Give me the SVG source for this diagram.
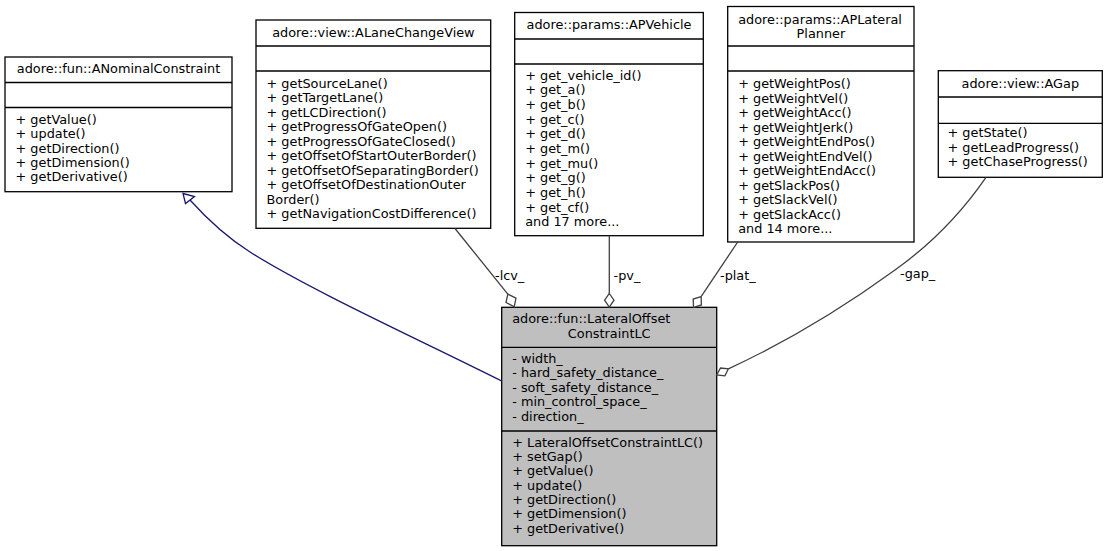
<svg xmlns="http://www.w3.org/2000/svg" width="1109" height="551" viewBox="0 0 1109 551">
<style>
text{font-family:"DejaVu Sans","Liberation Sans",sans-serif;font-size:12.85px;fill:#000}
.c{text-anchor:middle}
.box{fill:#fff;stroke:#000;stroke-width:1.3}
.main{fill:#bfbfbf}
.sep{stroke:#000;stroke-width:1.3}
.edge{fill:none;stroke:#404040;stroke-width:1.3}
.inh{fill:none;stroke:#191970;stroke-width:1.3}
.dia{fill:#fff;stroke:#404040;stroke-width:1.3}
.tri{fill:#fff;stroke:#191970;stroke-width:1.3}
.lbl{fill:#000}
</style>
<rect x="0" y="0" width="1109" height="551" fill="#fff"/>

<g id="node_ANominalConstraint">
<rect class="box" x="5" y="57" width="227" height="134.7"/>
<line class="sep" x1="5" y1="82.5" x2="232" y2="82.5"/>
<line class="sep" x1="5" y1="107.5" x2="232" y2="107.5"/>
<text class="c" x="118.5" y="73">adore::fun::ANominalConstraint</text>
<text x="15.5"><tspan x="15.5" y="124">+ getValue()</tspan><tspan x="15.5" y="138.3">+ update()</tspan><tspan x="15.5" y="152.6">+ getDirection()</tspan><tspan x="15.5" y="166.9">+ getDimension()</tspan><tspan x="15.5" y="181.2">+ getDerivative()</tspan></text>
</g>

<g id="node_ALaneChangeView">
<rect class="box" x="256" y="20" width="234.7" height="208.3"/>
<line class="sep" x1="256" y1="46" x2="490.7" y2="46"/>
<line class="sep" x1="256" y1="71" x2="490.7" y2="71"/>
<text class="c" x="373.4" y="36.7">adore::view::ALaneChangeView</text>
<text x="266.5"><tspan x="266.5" y="87.5">+ getSourceLane()</tspan><tspan x="266.5" y="102">+ getTargetLane()</tspan><tspan x="266.5" y="116.5">+ getLCDirection()</tspan><tspan x="266.5" y="131">+ getProgressOfGateOpen()</tspan><tspan x="266.5" y="145.5">+ getProgressOfGateClosed()</tspan><tspan x="266.5" y="160">+ getOffsetOfStartOuterBorder()</tspan><tspan x="266.5" y="174.5">+ getOffsetOfSeparatingBorder()</tspan><tspan x="266.5" y="189">+ getOffsetOfDestinationOuter</tspan><tspan x="266.5" y="203.5">Border()</tspan><tspan x="266.5" y="218">+ getNavigationCostDifference()</tspan></text>
</g>

<g id="node_APVehicle">
<rect class="box" x="514.7" y="12.5" width="188.6" height="223.2"/>
<line class="sep" x1="514.7" y1="39" x2="703.3" y2="39"/>
<line class="sep" x1="514.7" y1="64" x2="703.3" y2="64"/>
<text class="c" x="609" y="29">adore::params::APVehicle</text>
<text x="525.2"><tspan x="525.2" y="79.8">+ get_vehicle_id()</tspan><tspan x="525.2" y="94.4">+ get_a()</tspan><tspan x="525.2" y="109.1">+ get_b()</tspan><tspan x="525.2" y="123.7">+ get_c()</tspan><tspan x="525.2" y="138.4">+ get_d()</tspan><tspan x="525.2" y="153">+ get_m()</tspan><tspan x="525.2" y="167.7">+ get_mu()</tspan><tspan x="525.2" y="182.3">+ get_g()</tspan><tspan x="525.2" y="197">+ get_h()</tspan><tspan x="525.2" y="211.6">+ get_cf()</tspan><tspan x="525.2" y="226.3">and 17 more...</tspan></text>
</g>

<g id="node_APLateralPlanner">
<rect class="box" x="727.7" y="6.5" width="186.3" height="235.5"/>
<line class="sep" x1="727.7" y1="46" x2="914" y2="46"/>
<line class="sep" x1="727.7" y1="71" x2="914" y2="71"/>
<text x="738.2" y="23.5">adore::params::APLateral</text>
<text class="c" x="820.9" y="38">Planner</text>
<text x="738.2"><tspan x="738.2" y="88">+ getWeightPos()</tspan><tspan x="738.2" y="102.5">+ getWeightVel()</tspan><tspan x="738.2" y="117">+ getWeightAcc()</tspan><tspan x="738.2" y="131.5">+ getWeightJerk()</tspan><tspan x="738.2" y="146">+ getWeightEndPos()</tspan><tspan x="738.2" y="160.5">+ getWeightEndVel()</tspan><tspan x="738.2" y="175">+ getWeightEndAcc()</tspan><tspan x="738.2" y="189.5">+ getSlackPos()</tspan><tspan x="738.2" y="204">+ getSlackVel()</tspan><tspan x="738.2" y="218.5">+ getSlackAcc()</tspan><tspan x="738.2" y="233">and 14 more...</tspan></text>
</g>

<g id="node_AGap">
<rect class="box" x="938.3" y="70.7" width="164" height="106.6"/>
<line class="sep" x1="938.3" y1="97" x2="1102.3" y2="97"/>
<line class="sep" x1="938.3" y1="123.3" x2="1102.3" y2="123.3"/>
<text class="c" x="1020.3" y="88">adore::view::AGap</text>
<text x="947.5"><tspan x="947.5" y="137">+ getState()</tspan><tspan x="947.5" y="151.5">+ getLeadProgress()</tspan><tspan x="947.5" y="166">+ getChaseProgress()</tspan></text>
</g>

<g id="node_LateralOffsetConstraintLC">
<rect class="box main" x="501.7" y="307.3" width="215" height="238.4"/>
<line class="sep" x1="501.7" y1="347.3" x2="716.7" y2="347.3"/>
<line class="sep" x1="501.7" y1="431" x2="716.7" y2="431"/>
<text x="512.2" y="323.3">adore::fun::LateralOffset</text>
<text class="c" x="609.2" y="337.8">ConstraintLC</text>
<text x="512.2"><tspan x="512.2" y="362.7">- width_</tspan><tspan x="512.2" y="377.2">- hard_safety_distance_</tspan><tspan x="512.2" y="391.7">- soft_safety_distance_</tspan><tspan x="512.2" y="406.2">- min_control_space_</tspan><tspan x="512.2" y="420.7">- direction_</tspan></text>
<text x="512.2"><tspan x="512.2" y="446.8">+ LateralOffsetConstraintLC()</tspan><tspan x="512.2" y="461.1">+ setGap()</tspan><tspan x="512.2" y="475.4">+ getValue()</tspan><tspan x="512.2" y="489.7">+ update()</tspan><tspan x="512.2" y="504">+ getDirection()</tspan><tspan x="512.2" y="518.3">+ getDimension()</tspan><tspan x="512.2" y="532.6">+ getDerivative()</tspan></text>
</g>

<g id="connectors">
<g id="edge_inherit">
<path class="inh" d="M501.7,381 C420,340 310,290 250,252 C228,238 208,220 190,200"/>
<polygon class="tri" points="183,193.5 194.5,196.5 185.5,203.5"/>
</g>
<g id="edge_lcv">
<path class="edge" d="M455,228.5 L507.8,294.1"/>
<polygon class="dia" points="507.8,294.1 516,298.1 514.2,306.8 506,302.5"/>
<text class="lbl" x="495" y="279.5">-lcv_</text>
</g>
<g id="edge_pv">
<path class="edge" d="M609.3,235.7 L609.3,293.5"/>
<polygon class="dia" points="609.3,293.5 614,300.2 609.3,307 604.6,300.2"/>
<text class="lbl" x="613.5" y="279.5">-pv_</text>
</g>
<g id="edge_plat">
<path class="edge" d="M737.7,242 L701.1,296.7"/>
<polygon class="dia" points="701.1,296.7 701.4,304.9 693.5,307.3 693.2,299.1"/>
<text class="lbl" x="720" y="279.5">-plat_</text>
</g>
<g id="edge_gap">
<path class="edge" d="M986,177.3 C960,215 930,245 895,270 C840,310 780,345 728.4,368.8"/>
<polygon class="dia" points="728.4,368.8 724.9,375.8 716.7,375 720.5,368"/>
<text class="lbl" x="900" y="278">-gap_</text>
</g>
</g>
</svg>
